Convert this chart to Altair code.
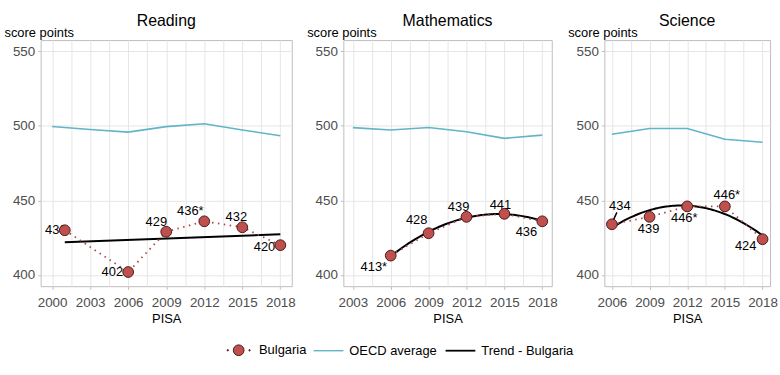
import altair as alt
import pandas as pd

# ---------------- data ----------------
series_names = ["Bulgaria", "OECD average", "Trend - Bulgaria"]

reading_years = [2001, 2006, 2009, 2012, 2015, 2018]
reading_bg = [430, 402, 429, 436, 432, 420]
reading_text = ["430", "402", "429", "436*", "432", "420"]
reading_oecd_years = [2000, 2003, 2006, 2009, 2012, 2015, 2018]
reading_oecd = [499.6, 497.5, 495.8, 499.5, 501.4, 497.2, 493.4]

math_years = [2006, 2009, 2012, 2015, 2018]
math_bg = [413, 428, 439, 441, 436]
math_text = ["413*", "428", "439", "441", "436"]
math_oecd_years = [2003, 2006, 2009, 2012, 2015, 2018]
math_oecd = [498.8, 497.2, 498.9, 496.0, 491.6, 493.8]

science_years = [2006, 2009, 2012, 2015, 2018]
science_bg = [434, 439, 446, 446, 424]
science_text = ["434", "439", "446*", "446*", "424"]
science_oecd_years = [2006, 2009, 2012, 2015, 2018]
science_oecd = [494.4, 498.2, 498.2, 491.0, 489.0]

# label placement (pixel offsets from the point) and leader-line flags
reading_lab_dx = [-9, -16, -10, -14, -6, -16]
reading_lab_dy = [0, 0, -10, -10, -10, 2]
math_lab_dx = [-17, -12, -8, -4, -16]
math_lab_dy = [12, -13, -10, -9, 11]
science_lab_dx = [8, -1, -3, 2, -17]
science_lab_dy = [-18, 12, 12, -11, 7]
science_leader = [1, 0, 0, 0, 0]

# ---------------- style ----------------
FONT = "Liberation Sans"
RED = "#C0504D"
RED_DARK = "#4A1A1A"
RED_LINE = "#A9474C"
CYAN = "#62B4C8"
GRID = "#E6E6E6"
BORDER = "#BDBDBD"
AXIS_TXT = "#4D4D4D"
# legend key for Bulgaria: a circle with a dot on each side (point on a dotted line)
bulgaria_key = ("M -0.36,0 A 0.36,0.36 0 1,1 0.36,0 A 0.36,0.36 0 1,1 -0.36,0 Z "
                "M -0.78,0 A 0.05,0.05 0 1,1 -0.68,0 A 0.05,0.05 0 1,1 -0.78,0 Z "
                "M 0.68,0 A 0.05,0.05 0 1,1 0.78,0 A 0.05,0.05 0 1,1 0.68,0 Z")

panels = [
    dict(name="Reading", years=reading_years, bg=reading_bg, text=reading_text,
         oyears=reading_oecd_years, oecd=reading_oecd, dx=reading_lab_dx, dy=reading_lab_dy,
         leader=[0] * len(reading_years), width=253, first=2000, method="linear"),
    dict(name="Mathematics", years=math_years, bg=math_bg, text=math_text,
         oyears=math_oecd_years, oecd=math_oecd, dx=math_lab_dx, dy=math_lab_dy,
         leader=[0] * len(math_years), width=210, first=2003, method="poly"),
    dict(name="Science", years=science_years, bg=science_bg, text=science_text,
         oyears=science_oecd_years, oecd=science_oecd, dx=science_lab_dx, dy=science_lab_dy,
         leader=science_leader, width=167, first=2006, method="poly"),
]

LAST = 2018
HEIGHT = 248


def make_panel(p):
    span = LAST - p["first"]
    pad = span * 0.05
    x_domain = [p["first"] - pad, LAST + pad]
    tick_vals = [p["first"] + 1.5 * i for i in range(int(span / 1.5) + 1)]

    bg = pd.DataFrame({"year": p["years"], "value": p["bg"], "label": p["text"],
                       "dx": p["dx"], "dy": p["dy"], "leader": p["leader"],
                       "series": "Bulgaria"})
    oecd = pd.DataFrame({"year": p["oyears"], "value": p["oecd"]})

    x_enc = alt.X(
        "year:Q",
        scale=alt.Scale(domain=x_domain, nice=False, zero=False),
        axis=alt.Axis(
            values=tick_vals, format="d",
            labelExpr="datum.value % 3 == 2 ? datum.label : ''",
            labelOverlap=False, labelFlush=False, labelPadding=6,
            tickOpacity={"condition": {"test": "datum.value % 3 == 2", "value": 1}, "value": 0},
            title="PISA", titlePadding=4,
        ),
    )
    y_enc = alt.Y(
        "value:Q",
        scale=alt.Scale(domain=[392.5, 557.5], nice=False, zero=False),
        axis=alt.Axis(values=[400, 450, 500, 550], title="score points",
                      titleAngle=0, titleX=-37, titleY=-8, titleAlign="left",
                      titleBaseline="middle", labelPadding=3),
    )

    layers = []
    layers.append(alt.Chart(oecd).mark_line(color=CYAN, strokeWidth=1.6).encode(x=x_enc, y=y_enc))
    layers.append(alt.Chart(bg).transform_regression(
        "year", "value", method=p["method"], order=2
    ).mark_line(color="black", strokeWidth=2).encode(x=x_enc, y=y_enc))
    layers.append(alt.Chart(bg).mark_line(color=RED_LINE, strokeWidth=1.8,
                                          strokeDash=[1.5, 4.5]).encode(x=x_enc, y=y_enc))
    if any(p["leader"]):
        layers.append(alt.Chart(bg).transform_filter("datum.leader == 1").mark_rule(
            color="black", strokeWidth=1.5, xOffset=1, yOffset=-3, x2Offset=5, y2Offset=-12
        ).encode(x=x_enc, y=y_enc, x2="year:Q", y2="value:Q"))
    # one text layer per distinct label placement
    for (ddx, ddy) in sorted(set(zip(p["dx"], p["dy"]))):
        layers.append(alt.Chart(bg).transform_filter(
            f"datum.dx == {ddx} && datum.dy == {ddy}"
        ).mark_text(font=FONT, fontSize=13, color="black", dx=ddx, dy=ddy).encode(
            x=x_enc, y=y_enc, text="label:N"))
    # the points themselves
    layers.append(alt.Chart(bg).mark_point(
        filled=True, opacity=1, shape="circle", size=117,
        fill=RED, stroke=RED_DARK, strokeWidth=1,
    ).encode(x=x_enc, y=y_enc))
    # legend-only layer (no marks drawn, explicit scale domains give the keys)
    layers.append(alt.Chart(bg).transform_filter("false").mark_point(
        filled=True, opacity=1, size=900).encode(
        x=x_enc, y=y_enc,
        fill=alt.Fill("series:N", scale=alt.Scale(domain=series_names, range=[RED, CYAN, "black"]),
                      legend=alt.Legend(title=None)),
        stroke=alt.Stroke("series:N", scale=alt.Scale(domain=series_names, range=[RED_DARK, CYAN, "black"]),
                          legend=alt.Legend(title=None)),
        shape=alt.Shape("series:N", scale=alt.Scale(domain=series_names, range=[bulgaria_key, "stroke", "stroke"]),
                        legend=alt.Legend(title=None)),
        strokeWidth=alt.StrokeWidth("series:N", scale=alt.Scale(domain=series_names, range=[1, 1.8, 2]),
                                    legend=alt.Legend(title=None)),
    ))
    return alt.layer(*layers).properties(
        width=p["width"], height=HEIGHT,
        title=alt.TitleParams(p["name"], fontSize=16, fontWeight="normal", font=FONT,
                              color="black", anchor="middle", offset=2, dy=5),
    )


chart = alt.hconcat(*[make_panel(p) for p in panels], spacing=9).properties(
    padding={"left": 3, "top": 11, "right": 2, "bottom": 2},
    background="white",
).configure_view(
    stroke=BORDER, strokeWidth=1,
).configure_axis(
    labelFont=FONT, labelFontSize=13.5, labelColor=AXIS_TXT,
    titleFont=FONT, titleFontSize=13, titleColor="black", titleFontWeight="normal",
    gridColor=GRID, gridWidth=1, domain=False, tickColor=BORDER, tickSize=3,
).configure_legend(
    orient="none", legendX=184, legendY=297, direction="horizontal",
    symbolSize=900, labelFont=FONT, labelFontSize=13, labelColor="black",
    labelOffset=5, columnPadding=4,
)

chart.save("out.html", embed_options={"renderer": "svg", "actions": False})
